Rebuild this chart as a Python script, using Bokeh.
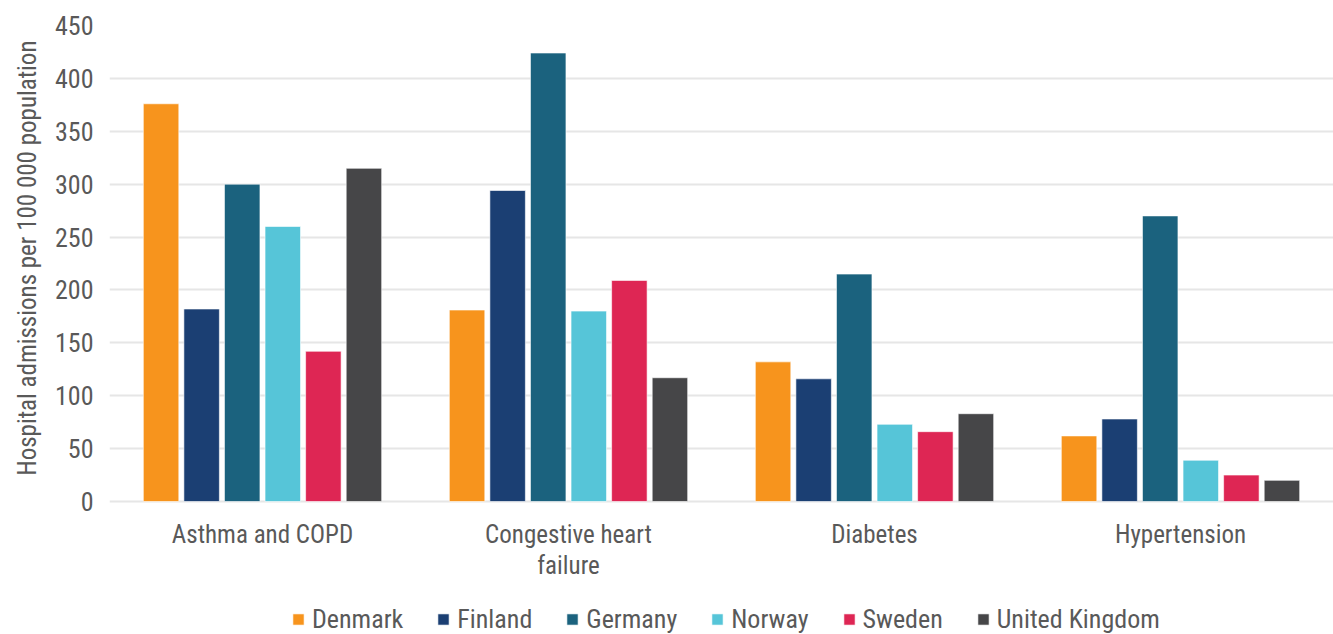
from bokeh.plotting import figure
from bokeh.models import ColumnDataSource, FactorRange, Range1d, Legend, LegendItem, Title
from bokeh.core.properties import value
from bokeh.transform import dodge
from bokeh.embed import file_html
from bokeh.resources import INLINE

# Hospital admissions per 100 000 population, by condition and country
conditions = ["Asthma and COPD", "Congestive heart failure", "Diabetes", "Hypertension"]
condition_labels = ["Asthma and COPD", "Congestive heart\nfailure", "Diabetes", "Hypertension"]
countries = ["Denmark", "Finland", "Germany", "Norway", "Sweden", "United Kingdom"]
denmark = [376, 181, 132, 62]
finland = [182, 294, 116, 78]
germany = [300, 424, 215, 270]
norway = [260, 180, 73, 39]
sweden = [142, 209, 66, 25]
united_kingdom = [315, 117, 83, 20]
colors = ["#F7941D", "#1B3F73", "#1B627E", "#56C5D8", "#DE2654", "#464648"]
y_ticks = [0, 50, 100, 150, 200, 250, 300, 350, 400, 450]

FONT = "Roboto Condensed, Liberation Sans Narrow, DejaVu Sans Condensed, Roboto, sans-serif"
TEXT = "#595959"

W, H = 1333, 634
TOP, LEFT = 25, 109
ZERO_Y = 501  # pixel row of the value axis baseline

source = ColumnDataSource(dict(
    condition=conditions, label=condition_labels,
    Denmark=denmark, Finland=finland, Germany=germany,
    Norway=norway, Sweden=sweden, **{"United Kingdom": united_kingdom},
))

# The frame runs down to the bottom edge so that the category names and the
# legend can sit underneath the bars; the value range is extended below zero
# to keep 0..450 in the upper part.
y_max = y_ticks[-1]
y_min = -(H - ZERO_Y) * y_max / (ZERO_Y - TOP)

p = figure(
    width=W, height=H,
    x_range=FactorRange(*conditions, range_padding=0.0),
    y_range=Range1d(y_min, y_max),
    x_axis_location=None,
    output_backend="svg", toolbar_location=None,
    min_border_left=LEFT, min_border_right=0, min_border_top=TOP, min_border_bottom=0,
)
p.outline_line_color = None
p.background_fill_color = "white"
p.border_fill_color = "white"

step = 0.1326
bar_w = 0.116
items = []
for i, (name, col) in enumerate(zip(countries, colors)):
    r = p.vbar(
        x=dodge("condition", (i - 2.5) * step, range=p.x_range),
        top=name, width=bar_w, bottom=0, source=source,
        fill_color=col, line_color="white", line_alpha=0.6, line_width=1,
    )
    items.append(LegendItem(label=name, renderers=[r]))

# category names under each group
p.text(
    x="condition", y=0, text="label", source=source,
    y_offset=18, text_align="center", text_baseline="top",
    text_font=value(FONT), text_font_size="25px", text_color=TEXT,
    text_line_height=1.1,
)

# y axis
p.yaxis.ticker = y_ticks
p.yaxis.axis_line_color = None
p.yaxis.major_tick_line_color = None
p.yaxis.minor_tick_line_color = None
p.yaxis.major_label_text_font = FONT
p.yaxis.major_label_text_font_size = "26px"
p.yaxis.major_label_text_color = TEXT
p.yaxis.major_label_standoff = 10

p.add_layout(Title(
    text="Hospital admissions per 100 000 population",
    align="right", offset=15,
    text_font=FONT, text_font_size="25px", text_font_style="normal",
    text_color=TEXT, standoff=19,
), "left")

p.xgrid.grid_line_color = None
p.ygrid.grid_line_color = "#E6E6E6"
p.ygrid.grid_line_width = 2

legend = Legend(
    items=items, orientation="horizontal", location=(182, 0),
    label_text_font=FONT, label_text_font_size="26px", label_text_color=TEXT,
    glyph_width=14, glyph_height=14, spacing=33, label_standoff=7,
    border_line_color=None, background_fill_alpha=0, margin=0, padding=1,
)
p.add_layout(legend, "center")

open("out.html", "w").write(file_html(p, INLINE))
